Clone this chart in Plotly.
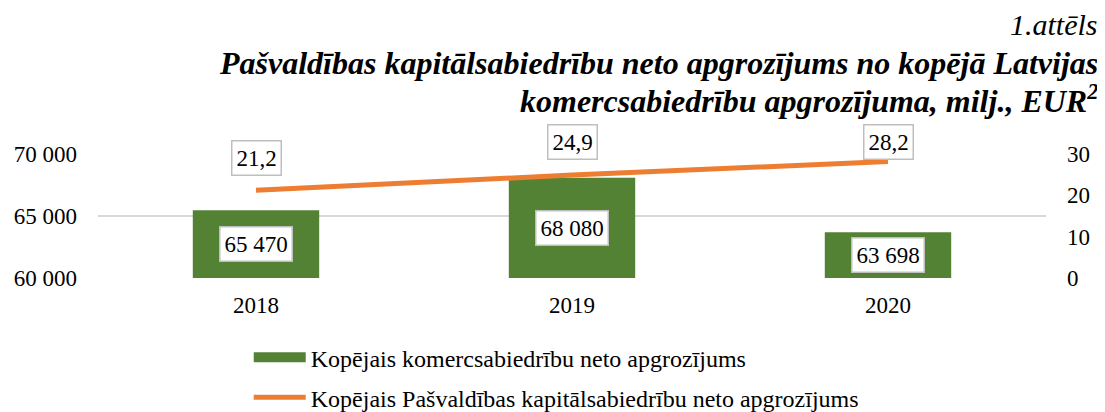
import plotly.graph_objects as go

years = ["2018", "2019", "2020"]
total_turnover = [65470, 68080, 63698]
municipal_turnover = [21.2, 24.9, 28.2]
bar_name = "Kopējais komercsabiedrību neto apgrozījums"
line_name = "Kopējais Pašvaldības kapitālsabiedrību neto apgrozījums"
fig_label = "1.attēls"
title_lines = ["Pašvaldības kapitālsabiedrību neto apgrozījums no kopējā Latvijas",
               "komercsabiedrību apgrozījuma, milj., EUR<sup>2</sup>"]

FONT = "Liberation Serif, Times New Roman, serif"
GREEN = "#548235"
ORANGE = "#ed7d31"
FS = 23

def fmt_int(v):
    return f"{v:,}".replace(",", " ")

def fmt_dec(v):
    return f"{v:.1f}".replace(".", ",")

fig = go.Figure()
fig.add_trace(go.Bar(x=years, y=total_turnover, name=bar_name,
                     marker=dict(color=GREEN, line=dict(width=0)),
                     width=0.4, yaxis="y", showlegend=False))
fig.add_trace(go.Scatter(x=years, y=municipal_turnover, name=line_name,
                         mode="lines", line=dict(color=ORANGE, width=5),
                         yaxis="y2", showlegend=False))
# legend entries (Excel-style wide swatches)
fig.add_trace(go.Scatter(x=[None], y=[None], name=bar_name, mode="lines",
                         line=dict(color=GREEN, width=12), legendgroup="a"))
fig.add_trace(go.Scatter(x=[None], y=[None], name=line_name, mode="lines",
                         line=dict(color=ORANGE, width=5), legendgroup="b"))

box = dict(bgcolor="white", bordercolor="#bfbfbf", borderwidth=1.5, borderpad=4,
           font=dict(family=FONT, size=FS, color="black"), showarrow=False)
ann = []
# category serial index is used for annotation placement on the category axis
for i, v in enumerate(total_turnover):
    ann.append(dict(x=i, y=(v + 60000) / 2, xref="x", yref="y",
                    text=fmt_int(v), **box))
shifts = [32, 33, 19]
for i, (v, s) in enumerate(zip(municipal_turnover, shifts)):
    ann.append(dict(x=i, y=v, xref="x", yref="y2", yshift=s,
                    text=fmt_dec(v), **box))

# titles
TX = 1.057
ann.append(dict(xref="paper", yref="paper", x=TX, y=1.0, yanchor="middle",
                xanchor="right", yshift=130, showarrow=False,
                text=f"<i>{fig_label}</i>", font=dict(family=FONT, size=30, color="black")))
for line, ys in zip(title_lines, [91, 55]):
    ann.append(dict(xref="paper", yref="paper", x=TX, y=1.0, yanchor="middle",
                    xanchor="right", yshift=ys, showarrow=False,
                    text=f"<b><i>{line}</i></b>",
                    font=dict(family=FONT, size=32, color="black")))

fig.update_layout(
    width=1097, height=404,
    margin=dict(l=90, r=59, t=146, b=134, autoexpand=False),
    paper_bgcolor="white", plot_bgcolor="white",
    separators=", ",
    font=dict(family=FONT, size=FS, color="black"),
    showlegend=True,
    legend=dict(orientation="v", x=0.159, xanchor="left", y=-0.46, yanchor="top",
                traceorder="grouped", tracegroupgap=6, itemwidth=52,
                font=dict(family=FONT, size=24, color="black")),
    xaxis=dict(type="category", range=[-0.5, 2.5], autorange=False,
               showgrid=False, showline=False, ticks="",
               tickfont=dict(family=FONT, size=FS), ticklabelstandoff=11),
    yaxis=dict(range=[60000, 70000], dtick=5000, tickformat=",d",
               showgrid=True, gridcolor="#d9d9d9", gridwidth=2, zeroline=False,
               showline=False, ticks="", tickfont=dict(family=FONT, size=FS),
               ticklabelstandoff=20),
    yaxis2=dict(range=[0, 30], dtick=10, overlaying="y", side="right",
                showgrid=False, zeroline=False, showline=False, ticks="",
                tickfont=dict(family=FONT, size=FS), ticklabelstandoff=20),
    annotations=ann,
)

fig.write_html("out.html")
